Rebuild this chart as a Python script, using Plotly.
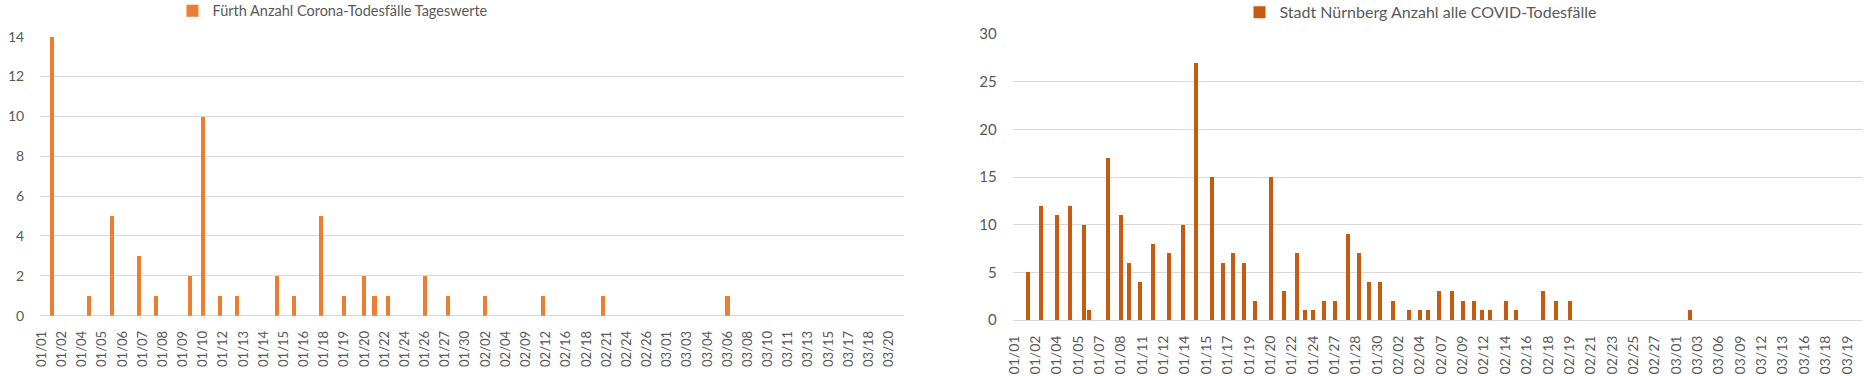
import plotly.graph_objects as go

# ---------------- Data ----------------
# Fürth: text category axis, a label shown every 6th row
fuerth_tick_labels = ["01/01", "01/02", "01/04", "01/05", "01/06", "01/07", "01/08", "01/09", "01/10",
                      "01/12", "01/13", "01/14", "01/15", "01/16", "01/18", "01/19", "01/20", "01/22",
                      "01/24", "01/26", "01/27", "01/30", "02/02", "02/04", "02/09", "02/12", "02/16",
                      "02/18", "02/21", "02/24", "02/26", "03/01", "03/03", "03/04", "03/06", "03/08",
                      "03/10", "03/11", "03/13", "03/15", "03/17", "03/18", "03/20"]
fuerth_row_count = 257
fuerth_label_every = 6
fuerth_bar_rows = [3, 14, 21, 29, 34, 44, 48, 53, 58, 70, 75, 83, 90, 96, 99, 103, 114, 121, 132, 149, 167, 204]
fuerth_values = [14, 1, 5, 3, 1, 2, 10, 1, 1, 2, 1, 5, 1, 2, 1, 1, 2, 1, 1, 1, 1, 1]

# Nürnberg: text category axis, a label shown every 8th row
nbg_tick_labels = ["01/01", "01/02", "01/04", "01/05", "01/07", "01/08", "01/11", "01/12", "01/14", "01/15",
                   "01/17", "01/19", "01/20", "01/22", "01/24", "01/27", "01/28", "01/30", "02/02", "02/04",
                   "02/07", "02/09", "02/12", "02/14", "02/16", "02/18", "02/19", "02/21", "02/23", "02/25",
                   "02/27", "03/01", "03/03", "03/06", "03/09", "03/12", "03/13", "03/16", "03/18", "03/19"]
nbg_row_count = 318
nbg_label_every = 8
nbg_bar_rows = [5, 10, 16, 21, 26, 28, 35, 40, 43, 47, 52, 58, 63, 68, 74, 78, 82, 86, 90, 96, 101, 106,
                109, 112, 116, 120, 125, 129, 133, 137, 142, 148, 152, 155, 159, 164, 168, 172, 175, 178,
                184, 188, 198, 203, 208, 253]
nbg_values = [5, 12, 11, 12, 10, 1, 17, 11, 6, 4, 8, 7, 10, 27, 15, 6, 7, 6, 2, 15, 3, 7,
              1, 1, 2, 2, 9, 7, 4, 4, 2, 1, 1, 1, 3, 3, 2, 2, 1, 1,
              2, 1, 3, 2, 2, 1]

fuerth_name = "Fürth Anzahl Corona-Todesfälle Tageswerte"
nbg_name = "Stadt Nürnberg Anzahl alle COVID-Todesfälle"

FUERTH_COLOR = "#ED7D31"
NBG_COLOR = "#C55A11"
GRID = "#D9D9D9"
TXT = "#595959"
FONT = "Lato, Open Sans, sans-serif"

W, H = 1864, 376

fig = go.Figure()
fig.add_trace(go.Bar(
    x=fuerth_bar_rows, y=fuerth_values, name=fuerth_name,
    marker=dict(color=FUERTH_COLOR, line=dict(width=0)),
    width=1.2, xaxis="x", yaxis="y", legend="legend",
))
fig.add_trace(go.Bar(
    x=nbg_bar_rows, y=nbg_values, name=nbg_name,
    marker=dict(color=NBG_COLOR, line=dict(width=0)),
    width=1.5, xaxis="x2", yaxis="y2", legend="legend2",
))

def xaxis(domain, n, every, labels, size, anchor):
    return dict(
        domain=domain, anchor=anchor, range=[-0.5, n - 0.5], automargin=False,
        tickmode="array", tickvals=list(range(0, n, every))[:len(labels)], ticktext=labels,
        tickangle=-90, showgrid=False, zeroline=False, showline=False,
        ticks="outside", ticklen=9, tickcolor="rgba(0,0,0,0)",
        tickfont=dict(family=FONT, size=size, color=TXT), fixedrange=True,
    )

def yaxis(domain, rng, dtick, size, anchor):
    return dict(
        domain=domain, anchor=anchor, range=rng, dtick=dtick, tick0=0, automargin=False,
        showgrid=True, gridcolor=GRID, gridwidth=1,
        zeroline=True, zerolinecolor=GRID, zerolinewidth=1, showline=False,
        ticks="outside", ticklen=12, tickcolor="rgba(0,0,0,0)",
        tickfont=dict(family=FONT, size=size, color=TXT), fixedrange=True,
    )

fig.update_layout(
    width=W, height=H, margin=dict(l=0, r=0, t=0, b=0, autoexpand=False),
    paper_bgcolor="white", plot_bgcolor="white",
    font=dict(family=FONT, color=TXT),
    bargap=0,
    xaxis=xaxis([40 / W, 904 / W], fuerth_row_count, fuerth_label_every, fuerth_tick_labels, 13, "y"),
    yaxis=yaxis([60.3 / H, 339.3 / H], [0, 14], 2, 14, "x"),
    xaxis2=xaxis([1012.7 / W, 1861.7 / W], nbg_row_count, nbg_label_every, nbg_tick_labels, 14, "y2"),
    yaxis2=yaxis([56 / H, 342 / H], [0, 30], 5, 15, "x2"),
    legend=dict(x=333 / W, y=1 - 10.7 / H, xanchor="center", yanchor="middle", orientation="h",
                font=dict(family=FONT, size=14.5, color=TXT), bgcolor="rgba(0,0,0,0)", itemwidth=30),
    legend2=dict(x=1421 / W, y=1 - 12.3 / H, xanchor="center", yanchor="middle", orientation="h",
                 font=dict(family=FONT, size=16, color=TXT), bgcolor="rgba(0,0,0,0)", itemwidth=30),
    showlegend=True,
)

fig.write_html("out.html")
